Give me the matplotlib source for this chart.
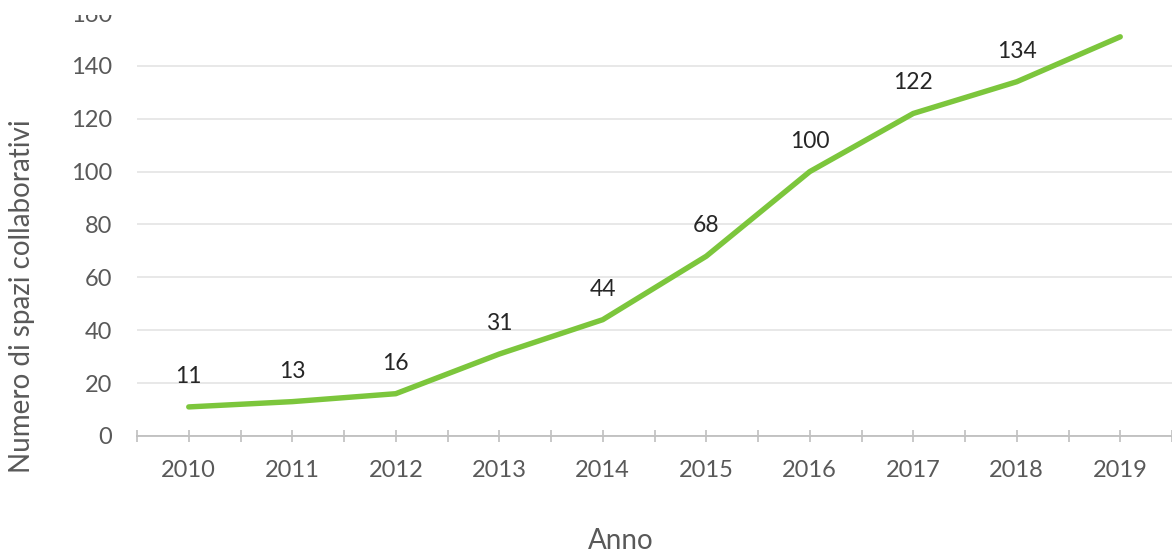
import numpy as np
import matplotlib
matplotlib.use('Agg')
from matplotlib import pyplot as plt
from matplotlib.patches import Rectangle

years = ['2010', '2011', '2012', '2013', '2014', '2015', '2016', '2017', '2018', '2019']
spazi = [11, 13, 16, 31, 44, 68, 100, 122, 134, 151]
labels = ['11', '13', '16', '31', '44', '68', '100', '122', '134', '']
yticks = [0, 20, 40, 60, 80, 100, 120, 140, 160]

plt.rcParams['font.family'] = ['Lato', 'DejaVu Sans']

W, H = 1172, 553
fig = plt.figure(figsize=(W / 100, H / 100), dpi=100)
ax = fig.add_axes([137 / W, (H - 436) / H, 1 - 137 / W, (436 - 13) / H])

x = np.arange(len(years))
ax.plot(x, spazi, color='#7cc63c', lw=3.9, solid_capstyle='round', zorder=3)

# etichette sopra i punti
for xi, v, lab in zip(x, spazi, labels):
    ax.annotate(lab, (xi, v), xytext=(0, 22), textcoords='offset points',
                ha='center', va='center', fontsize=16.5, color='#262626')

ax.set_xlim(-0.5, 9.42)
ax.set_ylim(0, 160)
ax.set_xticks(x)
ax.set_xticklabels(years)
ax.set_xticks(np.arange(-0.5, 9.6, 1.0), minor=True)
ax.set_yticks(yticks)

for s in ['top', 'right', 'left']:
    ax.spines[s].set_visible(False)
ax.spines['bottom'].set_color('#bfbfbf')
ax.spines['bottom'].set_linewidth(1.3)

ax.tick_params(axis='x', which='both', direction='inout', length=9,
               width=1.2, color='#bfbfbf')
ax.tick_params(axis='x', which='major', pad=13, labelsize=17, labelcolor='#595959')
ax.tick_params(axis='y', length=0, pad=18, labelsize=17, labelcolor='#595959')

ax.grid(axis='y', color='#e4e4e4', lw=1.2, zorder=0)
ax.set_axisbelow(True)
ax.yaxis.get_gridlines()[-1].set_visible(False)

fig.text(22 / W, 1 - 296 / H, 'Numero di spazi collaborativi', rotation=90,
         ha='center', va='center', fontsize=20, color='#595959')
fig.text(621 / W, 1 - 541 / H, 'Anno', ha='center', va='center',
         fontsize=20, color='#595959')

# bordo superiore tagliato come nell'originale
fig.patches.append(Rectangle((0, 1 - 15 / H), 1, 15 / H, transform=fig.transFigure,
                             facecolor='white', edgecolor='none', zorder=10))

fig.savefig('out.png', dpi=100)
